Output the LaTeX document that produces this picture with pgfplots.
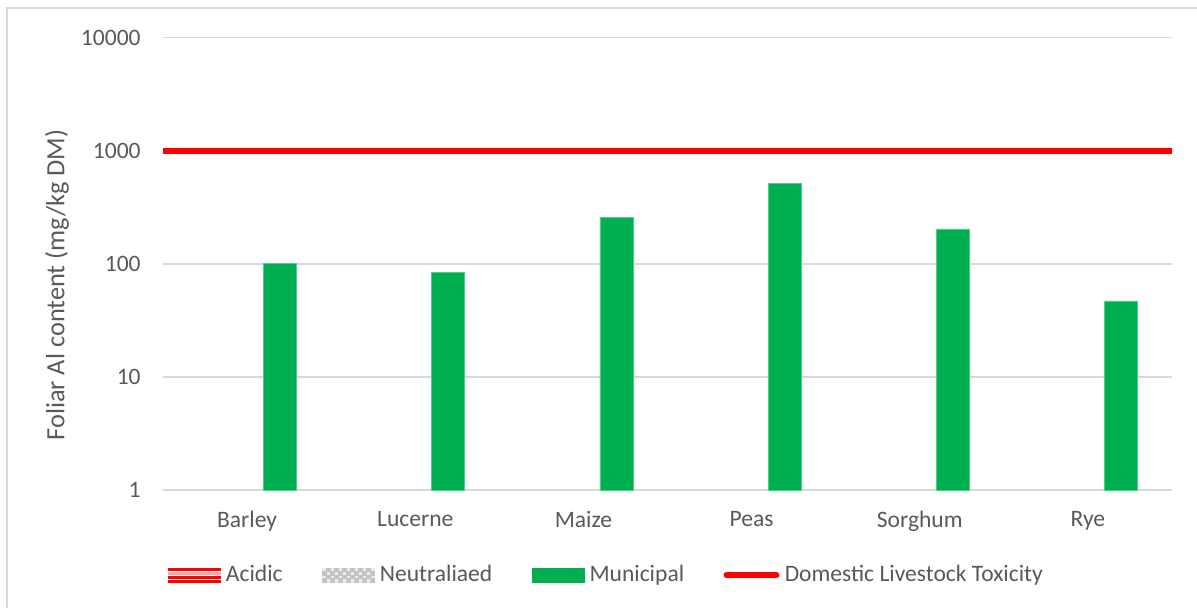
\documentclass[border=0pt]{standalone}
\usepackage{fontspec}
\setmainfont{Carlito}
\usepackage{pgfplots}
\pgfplotsset{compat=1.18}
\usetikzlibrary{patterns}

\definecolor{txt}{HTML}{595959}
\definecolor{gridc}{HTML}{D9D9D9}
\definecolor{muni}{HTML}{00B050}
\definecolor{muniedge}{HTML}{4FD08A}
\definecolor{tox}{HTML}{FF0000}
\definecolor{chkdark}{HTML}{C4C4C4}
\definecolor{chklight}{HTML}{EAEAEA}

\newcommand{\ticksize}{\fontsize{13.4}{16}\selectfont}
\newcommand{\titlesize}{\fontsize{15}{18}\selectfont}

\begin{document}
\begin{tikzpicture}
\useasboundingbox (0,0) rectangle (23.94cm,12.14cm);
% outer chart frame (left and top edges)
\draw[gridc, line width=0.8pt] (0.14cm,-0.2cm) -- (0.14cm,11.98cm) -- (24.2cm,11.98cm);
\begin{axis}[
  at={(3.26cm,2.34cm)}, anchor=south west,
  scale only axis,
  width=20.18cm, height=9.05cm,
  ymode=log, ymin=1, ymax=10000,
  xmin=-0.5, xmax=5.5,
  xtick={0,1,2,3,4,5},
  xticklabels={Barley,Lucerne,Maize,Peas,Sorghum,Rye},
  ytick={1,10,100,1000,10000},
  yticklabels={1,10,100,1000,10000},
  yminorticks=false,
  major tick length=0pt,
  minor tick length=0pt,
  tick style={draw=none},
  axis line style={draw=none},
  ymajorgrids,
  grid style={gridc, line width=0.9pt},
  tick label style={font=\ticksize, text=txt},
  yticklabel style={inner sep=0pt, xshift=-0.44cm},
  xticklabel style={inner sep=0pt, yshift=-0.42cm},
  /pgf/number format/assume math mode=true,
  ylabel={Foliar Al content (mg/kg DM)},
  ylabel style={at={(axis description cs:-0.105,0.453)}, anchor=center, font=\titlesize, text=txt},
  legend columns=4,
  legend style={
    at={(axis description cs:0.0046,-0.188)}, anchor=west,
    draw=none, fill=none, inner sep=0pt,
    font=\ticksize, text=txt,
    nodes={inner xsep=3pt, inner ysep=0pt},
    /tikz/every even column/.append style={column sep=0.68cm},
  },
  legend cell align=left,
]

% legend swatches for the two series that have no bars above the axis floor
\addlegendimage{legend image code/.code={
    \fill[white] (0cm,-0.14cm) rectangle (1.04cm,0.14cm);
    \foreach \yy/\cc in {0.12/tox,0.04/tox!35,-0.04/tox,-0.12/tox}
      \fill[\cc] (0cm,\yy cm-0.02cm) rectangle (1.04cm,\yy cm+0.02cm);
  }}
\addlegendentry{Acidic}
\addlegendimage{legend image code/.code={
    \fill[chklight] (0cm,-0.14cm) rectangle (1.04cm,0.14cm);
    \foreach \i in {0,...,12}{
      \foreach \j in {0,...,3}{
        \pgfmathparse{int(mod(\i+\j,2))}
        \ifnum\pgfmathresult=0
          \fill[chkdark] (\i*0.08cm,-0.14cm+\j*0.07cm) rectangle (\i*0.08cm+0.08cm,-0.14cm+\j*0.07cm+0.07cm);
        \fi
      }}
  }}
\addlegendentry{Neutraliaed}

% Municipal series
\addplot[ybar, bar width=0.66cm, bar shift=0.66cm, fill=muni, draw=muniedge, line width=0.4pt,
  legend image code/.code={\fill[muni] (0cm,-0.14cm) rectangle (1.04cm,0.14cm);}]
  coordinates {(0,100) (1,84) (2,259) (3,511) (4,203) (5,47)};
\addlegendentry{Municipal}

% toxicity threshold
\addplot[tox, line width=3.4pt, line cap=round,
  legend image code/.code={\draw[tox, line width=3.4pt, line cap=round] (0.06cm,0cm) -- (1.06cm,0cm);}]
  coordinates {(-0.5,1000) (5.5,1000)};
\addlegendentry{Domestic Livestock Toxicity}
\end{axis}
\end{tikzpicture}
\end{document}
